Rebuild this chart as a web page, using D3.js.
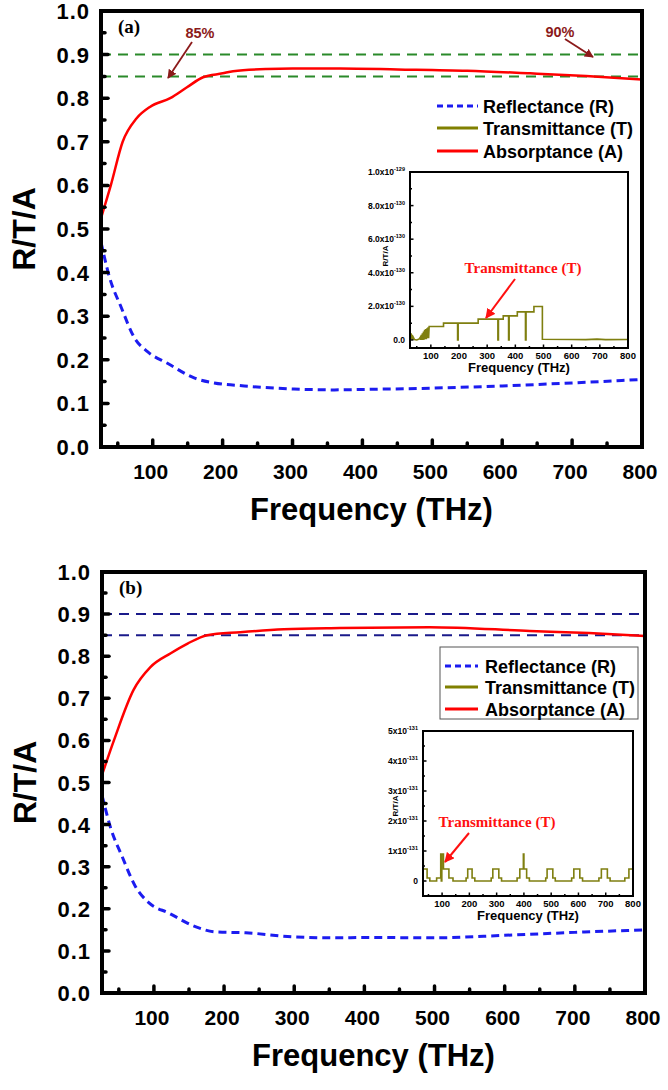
<!DOCTYPE html>
<html><head><meta charset="utf-8">
<script src="https://cdn.jsdelivr.net/npm/d3@7"></script>
<style>body{margin:0;background:#fff}svg{display:block}text{font-weight:bold}</style>
</head><body><svg id="c" width="668" height="1090" font-family="'Liberation Sans',Arial,sans-serif"></svg>
<script>
// ---------- DATA ----------
const mainTicksX = [100,200,300,400,500,600,700,800];
const mainTicksY = [0.0,0.1,0.2,0.3,0.4,0.5,0.6,0.7,0.8,0.9,1.0];
const legendLabels = ["Reflectance (R)","Transmittance (T)","Absorptance (A)"];
const refLevels = [0.85, 0.90];

// panel (a)
const freqA_a = [26,40,57,77,96,125,149,172,200,215,263,300,368,450,550,640,720,800];
const absA_a  = [0.525,0.60,0.70,0.754,0.78,0.80,0.825,0.848,0.857,0.862,0.867,0.868,0.868,0.866,0.863,0.857,0.851,0.843];
const freqR_a = [26,38,55,74,93,121,160,188,231,302,360,400,500,600,700,800];
const refR_a  = [0.47,0.39,0.32,0.25,0.218,0.192,0.158,0.147,0.14,0.133,0.131,0.132,0.135,0.14,0.147,0.155];
const freqT_a = [26,800];
const trT_a   = [0,0];

// panel (b)
const freqA_b = [26,43,71,95,124,148,176,223,285,365,493,636,720,800];
const absA_b  = [0.518,0.60,0.72,0.774,0.807,0.83,0.85,0.857,0.864,0.867,0.869,0.86,0.855,0.848];
const freqR_b = [26,38,55,74,93,121,160,188,231,302,360,400,500,600,700,800];
const refR_b  = [0.47,0.394,0.323,0.252,0.214,0.19,0.157,0.145,0.143,0.133,0.131,0.132,0.131,0.137,0.144,0.15];
const freqT_b = [26,800];
const trT_b   = [0,0];

// inset (a): transmittance in units of 1e-130
const insetFreq_a = [26,28,30,32,34,36,38,42,50,58,62,64,66,68,70,72,74,76,78,80,82,84,86,88,90,92,94,95,145,145,195,195,197,197,268,268,338,338,340,340,357,357,376,376,378,378,407,407,436,436,438,438,466,466,496,496,600,650,690,720,800];
const insetT_a    = [0.45,0.1,0.4,0.05,0.3,0.02,0.15,0.02,0,0.05,0.15,0,0.3,0,0.4,0,0.5,0.02,0.6,0.05,0.65,0.05,0.7,0.1,0.75,0.1,0.8,0.8,0.8,1.0,1.0,0,0,1.0,1.0,1.24,1.24,0,0,1.24,1.24,1.43,1.43,0,0,1.43,1.43,1.67,1.67,0,0,1.67,1.67,1.99,1.99,0.04,0.03,0.02,0.05,0.02,0.03];
const insetTicksY_a = [0,2,4,6,8,10];
const insetTickLabels_a = [["0.0",""],["2.0x10","-130"],["4.0x10","-130"],["6.0x10","-130"],["8.0x10","-130"],["1.0x10","-129"]];

// inset (b): transmittance in units of 1e-131
const insetFreq_b = [30,31,31,45,45,55,55,80,80,95,95,97,97,99,99,105,105,125,125,140,140,188,188,194,194,210,210,220,220,280,280,286,286,308,308,318,318,375,375,385,385,398,398,400,400,410,410,420,420,480,480,485,485,506,506,515,515,575,575,583,583,605,605,615,615,675,675,684,684,706,706,716,716,770,770,785,785,800];
const insetT_b    = [0.9,0.9,0.4,0.4,0.1,0.1,0,0,0.1,0.1,0.9,0.9,0,0,0.9,0.9,0.4,0.4,0.1,0.1,0,0,0.1,0.1,0.4,0.4,0.1,0.1,0,0,0.1,0.1,0.4,0.4,0.1,0.1,0,0,0.1,0.1,0.4,0.4,0.9,0.9,0.4,0.4,0.1,0.1,0,0,0.1,0.1,0.4,0.4,0.1,0.1,0,0,0.1,0.1,0.4,0.4,0.1,0.1,0,0,0.1,0.1,0.4,0.4,0.1,0.1,0,0,0.1,0.1,0.4,0.4];
const insetTicksY_b = [0,1,2,3,4,5];
const insetTickLabels_b = [["0",""],["1x10","-131"],["2x10","-131"],["3x10","-131"],["4x10","-131"],["5x10","-131"]];

// ---------- DRAWING ----------
const SERIF = "'Liberation Serif','Times New Roman',serif";
const svg = d3.select("#c");
const defs = svg.append("defs");
function marker(id,color){
  defs.append("marker").attr("id",id).attr("viewBox","0 0 10 10").attr("refX",9).attr("refY",5)
    .attr("markerWidth",5).attr("markerHeight",5).attr("orient","auto")
    .append("path").attr("d","M0,0L10,5L0,10z").attr("fill",color);
}
marker("arDark","#8b1a1a"); marker("arRed","#ff1010");

const C = {R:"#1c1cf0", T:"#808000", A:"#ff0000"};

function zip(a,b){return a.map((v,i)=>[v,b[i]]);}

function panel(o){
  const g = svg.append("g");
  const x = d3.scaleLinear().domain([26,800]).range([o.x0,o.x1]);
  const y = d3.scaleLinear().domain([0,1]).range([o.y0,o.y1]);
  refLevels.forEach(v=>{
    g.append("line").attr("x1",x(26)).attr("x2",x(800)).attr("y1",y(v)).attr("y2",y(v))
     .attr("stroke",o.refColor).attr("stroke-width",2).attr("stroke-dasharray","10,7");
  });
  const line = d3.line().x(d=>x(d[0])).y(d=>y(d[1])).curve(d3.curveMonotoneX);
  g.append("path").attr("d",line(zip(o.fT,o.vT))).attr("fill","none").attr("stroke",C.T).attr("stroke-width",3);
  g.append("path").attr("d",line(zip(o.fR,o.vR))).attr("fill","none").attr("stroke",C.R).attr("stroke-width",3).attr("stroke-dasharray","8,5");
  g.append("path").attr("d",line(zip(o.fA,o.vA))).attr("fill","none").attr("stroke",C.A).attr("stroke-width",2.5);
  g.append("rect").attr("x",o.x0).attr("y",o.y1).attr("width",o.x1-o.x0).attr("height",o.y0-o.y1)
   .attr("fill","none").attr("stroke","#000").attr("stroke-width",4);
  const minorX = d3.range(50,800,100);
  mainTicksX.forEach(t=>g.append("line").attr("x1",x(t)).attr("x2",x(t)).attr("y1",o.y0).attr("y2",o.y0-7).attr("stroke","#000").attr("stroke-width",3.5).attr("stroke-linecap","round"));
  minorX.forEach(t=>g.append("line").attr("x1",x(t)).attr("x2",x(t)).attr("y1",o.y0).attr("y2",o.y0-4).attr("stroke","#000").attr("stroke-width",3.5).attr("stroke-linecap","round"));
  mainTicksY.forEach(t=>g.append("line").attr("x1",o.x0).attr("x2",o.x0+7).attr("y1",y(t)).attr("y2",y(t)).attr("stroke","#000").attr("stroke-width",3.5).attr("stroke-linecap","round"));
  d3.range(0.05,1,0.1).forEach(t=>g.append("line").attr("x1",o.x0).attr("x2",o.x0+4).attr("y1",y(t)).attr("y2",y(t)).attr("stroke","#000").attr("stroke-width",3.5).attr("stroke-linecap","round"));
  mainTicksY.forEach(t=>g.append("text").attr("x",o.x0-11).attr("y",y(t)+8).attr("text-anchor","end")
     .attr("font-size",22).attr("letter-spacing",1).text(t.toFixed(1)));
  mainTicksX.forEach(t=>g.append("text").attr("x",x(t)-2).attr("y",o.y0+32).attr("text-anchor","middle")
     .attr("font-size",21).text(t));
  g.append("text").attr("x",(o.x0+o.x1)/2).attr("y",o.y0+73).attr("text-anchor","middle").attr("font-size",31).text("Frequency (THz)");
  g.append("text").attr("transform",`translate(${o.x0-66},${(o.y0+o.y1)/2}) rotate(-90)`).attr("text-anchor","middle").attr("font-size",32).text("R/T/A");
  g.append("text").attr("x",o.x0+17).attr("y",o.y1+22).style("font-family",SERIF)
     .attr("font-size",19).text(o.label);
  if(o.legendBox){
    g.append("rect").attr("x",o.legendBox[0]).attr("y",o.legendBox[1]).attr("width",o.legendBox[2]).attr("height",o.legendBox[3])
     .attr("fill","#fff").attr("stroke","#555").attr("stroke-width",1);
  }
  const lstyles=[{c:C.R,d:"6,4",w:3},{c:C.T,d:null,w:3},{c:C.A,d:null,w:3}];
  legendLabels.forEach((lab,i)=>{
    const yy=o.legY[i];
    const l=g.append("line").attr("x1",o.legX[0]).attr("x2",o.legX[1]).attr("y1",yy).attr("y2",yy)
      .attr("stroke",lstyles[i].c).attr("stroke-width",lstyles[i].w);
    if(lstyles[i].d) l.attr("stroke-dasharray",lstyles[i].d);
    g.append("text").attr("x",o.legX[2]).attr("y",yy+6.5).attr("font-size",18).text(lab);
  });
  return {x,y,g};
}

function inset(o){
  const g = svg.append("g");
  const x = d3.scaleLinear().domain(o.xd).range([o.x0,o.x1]);
  const y = d3.scaleLinear().domain(o.yd).range([o.y0,o.y1]);
  g.append("rect").attr("x",o.x0).attr("y",o.y1).attr("width",o.x1-o.x0).attr("height",o.y0-o.y1).attr("fill","#fff");
  const line = d3.line().x(d=>x(d[0])).y(d=>y(d[1]));
  g.append("path").attr("d",line(zip(o.f,o.v))).attr("fill","none").attr("stroke","#7f7f10").attr("stroke-width",1.6);
  g.append("rect").attr("x",o.x0).attr("y",o.y1).attr("width",o.x1-o.x0).attr("height",o.y0-o.y1)
   .attr("fill","none").attr("stroke","#000").attr("stroke-width",2);
  mainTicksX.forEach(t=>g.append("line").attr("x1",x(t)).attr("x2",x(t)).attr("y1",o.y0).attr("y2",o.y0-3.5).attr("stroke","#000").attr("stroke-width",1.5));
  d3.range(50,800,100).forEach(t=>g.append("line").attr("x1",x(t)).attr("x2",x(t)).attr("y1",o.y0).attr("y2",o.y0-2).attr("stroke","#000").attr("stroke-width",1.5));
  o.ticks.forEach((t,i)=>{
    g.append("line").attr("x1",o.x0).attr("x2",o.x0+3.5).attr("y1",y(t)).attr("y2",y(t)).attr("stroke","#000").attr("stroke-width",1.5);
    if(i<o.ticks.length-1){const m=(t+o.ticks[i+1])/2;
      g.append("line").attr("x1",o.x0).attr("x2",o.x0+2).attr("y1",y(m)).attr("y2",y(m)).attr("stroke","#000").attr("stroke-width",1.5);}
    const tx=g.append("text").attr("x",o.x0-5).attr("y",y(t)+3).attr("text-anchor","end").attr("font-size",8.5);
    tx.append("tspan").text(o.labels[i][0]);
    if(o.labels[i][1]) tx.append("tspan").attr("dy",-4).attr("font-size",5.5).text(o.labels[i][1]);
  });
  mainTicksX.forEach(t=>g.append("text").attr("x",x(t)).attr("y",o.y0+11).attr("text-anchor","middle").attr("font-size",9.5).text(t));
  g.append("text").attr("x",(o.x0+o.x1)/2).attr("y",o.y0+24).attr("text-anchor","middle").attr("font-size",13).text("Frequency (THz)");
  g.append("text").attr("transform",`translate(${o.titleX},${o.titleY}) rotate(-90)`).attr("text-anchor","middle").attr("font-size",8).text("R/T/A");
  g.append("text").attr("x",o.ann[0]).attr("y",o.ann[1]).attr("text-anchor","middle").attr("fill","#ff1010")
   .style("font-family",SERIF).attr("font-size",15).text("Transmittance (T)");
  g.append("line").attr("x1",o.arrow[0]).attr("y1",o.arrow[1]).attr("x2",o.arrow[2]).attr("y2",o.arrow[3])
   .attr("stroke","#ff1010").attr("stroke-width",2).attr("marker-end","url(#arRed)");
}

// Panel (a)
panel({x0:101,x1:642,y0:447,y1:11,refColor:"#2a8a2a",label:"(a)",
  fA:freqA_a,vA:absA_a,fR:freqR_a,vR:refR_a,fT:freqT_a,vT:trT_a,
  legX:[437,478,483],legY:[106,128,151],legendBox:null});
svg.append("text").attr("x",200).attr("y",38).attr("text-anchor","middle").attr("fill","#8b1a1a").attr("font-size",14.5).text("85%");
svg.append("line").attr("x1",192).attr("y1",42).attr("x2",168).attr("y2",78).attr("stroke","#8b1a1a").attr("stroke-width",1.8).attr("marker-end","url(#arDark)");
svg.append("text").attr("x",560).attr("y",37).attr("text-anchor","middle").attr("fill","#8b1a1a").attr("font-size",14.5).text("90%");
svg.append("line").attr("x1",565).attr("y1",39).attr("x2",593).attr("y2",57).attr("stroke","#8b1a1a").attr("stroke-width",1.8).attr("marker-end","url(#arDark)");

inset({x0:410,x1:628,y0:348,y1:172,xd:[26,800],yd:[-0.48,10],f:insetFreq_a,v:insetT_a,
  ticks:insetTicksY_a,labels:insetTickLabels_a,titleX:388,titleY:256,ann:[523,273],arrow:[515,279,486,318]});

// Panel (b)
panel({x0:102,x1:645,y0:993,y1:572,refColor:"#1a1a8a",label:"(b)",
  fA:freqA_b,vA:absA_b,fR:freqR_b,vR:refR_b,fT:freqT_b,vT:trT_b,
  legX:[445,478,485],legY:[666,687,709],legendBox:[440,647,198,72]});

inset({x0:423,x1:633,y0:896,y1:731,xd:[30,800],yd:[-0.5,5],f:insetFreq_b,v:insetT_b,
  ticks:insetTicksY_b,labels:insetTickLabels_b,titleX:398,titleY:806,ann:[497,827],arrow:[469,833,445,862]});
</script></body></html>
